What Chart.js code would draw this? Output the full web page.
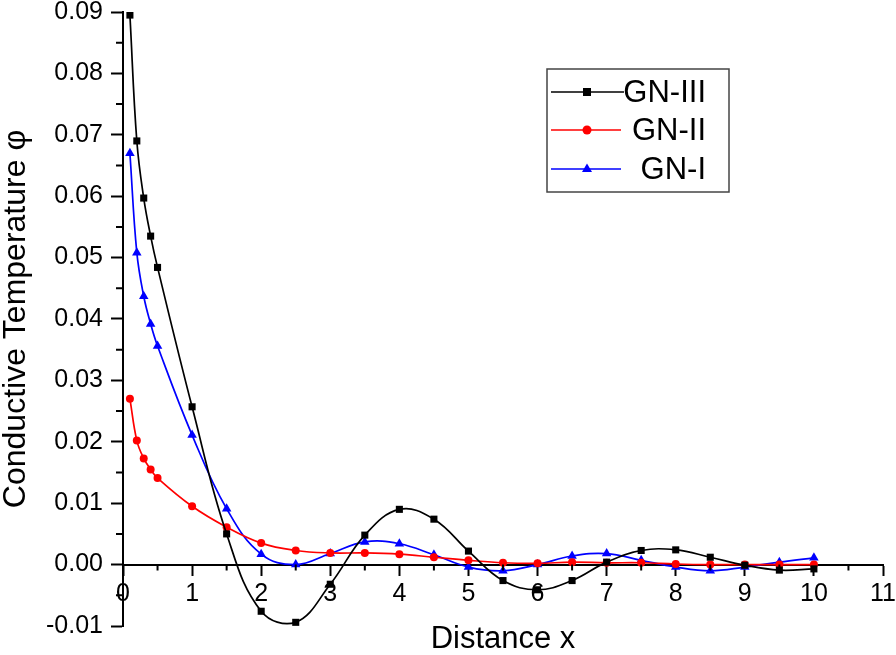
<!DOCTYPE html>
<html>
<head>
<meta charset="utf-8">
<script src="https://cdn.jsdelivr.net/npm/chart.js@4"></script>
<style>
    html, body { margin: 0; padding: 0; background: #fff; }
    #wrap { width: 896px; height: 655px; }
</style>
</head>
<body>
<div id="wrap"><canvas id="chart1"></canvas></div>
<script>
// 거리 x
const distance = [0.1, 0.2, 0.3, 0.4, 0.5, 1, 1.5, 2, 2.5, 3, 3.5, 4, 4.5, 5, 5.5, 6, 6.5, 7, 7.5, 8, 8.5, 9, 9.5, 10];

const gn3 = [0.0895, 0.0690, 0.0597, 0.0535, 0.0484, 0.0257, 0.0050, -0.0076, -0.0094, -0.0032, 0.0048, 0.0090,
    0.0074, 0.0022, -0.0026, -0.0041, -0.0026, 0.0004, 0.0023, 0.0024, 0.0012, -0.0001, -0.0009, -0.0007];
const gn2 = [0.0270, 0.0202, 0.0173, 0.0155, 0.0141, 0.0095, 0.0061, 0.0035, 0.0023, 0.0019, 0.0019, 0.0017,
    0.0012, 0.0007, 0.0003, 0.0002, 0.0004, 0.0003, 0.0003, 0.0001, 0.0000, 0.0000, 0.0000, 0.0000];
const gn1 = [0.0670, 0.0508, 0.0437, 0.0392, 0.0356, 0.0211, 0.0091, 0.0017, 0.0000, 0.0018, 0.0037, 0.0034,
    0.0016, -0.0004, -0.0010, 0.0000, 0.0014, 0.0018, 0.0007, -0.0004, -0.0010, -0.0004, 0.0004, 0.0011];

const seriesNames = ["GN-III", "GN-II", "GN-I"];
const xTicks = [0, 1, 2, 3, 4, 5, 6, 7, 8, 9, 10, 11];
const yTicks = [-0.01, 0, 0.01, 0.02, 0.03, 0.04, 0.05, 0.06, 0.07, 0.08, 0.09];

const FONT = "'Liberation Sans', Arial, sans-serif";

function toPoints(ys) {
    return distance.map((x, i) => ({ x: x, y: ys[i] }));
}

// 보조 눈금 (0.5, 0.005 간격)
const minorTicks = {
    id: "minorTicks",
    afterDraw(chart) {
        const ctx = chart.ctx;
        const xs = chart.scales.x;
        const ys = chart.scales.y;
        const y0 = ys.getPixelForValue(0);
        const left = chart.chartArea.left;
        ctx.save();
        ctx.strokeStyle = "#000";
        ctx.lineWidth = 2;
        ctx.beginPath();
        for (let i = 0; i < xTicks.length - 1; i++) {
            const px = xs.getPixelForValue(xTicks[i] + 0.5);
            ctx.moveTo(px, y0);
            ctx.lineTo(px, y0 + 6);
        }
        for (let i = 0; i < yTicks.length - 1; i++) {
            const py = ys.getPixelForValue(yTicks[i] + 0.005);
            ctx.moveTo(left, py);
            ctx.lineTo(left - 7, py);
        }
        ctx.stroke();
        ctx.restore();
    },
};

// 범례 상자
const legendBox = {
    id: "legendBox",
    afterDraw(chart) {
        const ctx = chart.ctx;
        ctx.save();
        ctx.strokeStyle = "#444";
        ctx.lineWidth = 1.5;
        ctx.strokeRect(547, 69, 182, 123);
        const rows = [92, 130, 169];
        chart.data.datasets.forEach((ds, i) => {
            const y = rows[i];
            ctx.strokeStyle = ds.borderColor;
            ctx.lineWidth = 1.5;
            ctx.beginPath();
            ctx.moveTo(551, y);
            ctx.lineTo(i === 0 ? 624 : 621, y);
            ctx.stroke();
            ctx.fillStyle = ds.borderColor;
            const cx = 587;
            ctx.beginPath();
            if (ds.pointStyle === "rect") {
                ctx.rect(cx - 4, y - 4, 8, 8);
            } else if (ds.pointStyle === "circle") {
                ctx.arc(cx, y, 4.5, 0, Math.PI * 2);
            } else {
                ctx.moveTo(cx, y - 5.5);
                ctx.lineTo(cx + 5, y + 3);
                ctx.lineTo(cx - 5, y + 3);
                ctx.closePath();
            }
            ctx.fill();
            ctx.fillStyle = "#000";
            ctx.font = "31px " + FONT;
            ctx.textAlign = "right";
            ctx.textBaseline = "middle";
            ctx.fillText(ds.label, 706, y + 1);
        });
        ctx.restore();
    },
};

const ctx1 = document.getElementById("chart1").getContext("2d");
const chart1 = new Chart(ctx1, {
    type: "line",
    data: {
        datasets: [
            {
                label: seriesNames[0],
                data: toPoints(gn3),
                borderColor: "#000000",
                backgroundColor: "#000000",
                pointStyle: "rect",
                pointRadius: 5,
            },
            {
                label: seriesNames[1],
                data: toPoints(gn2),
                borderColor: "#ff0000",
                backgroundColor: "#ff0000",
                pointStyle: "circle",
                pointRadius: 4,
            },
            {
                label: seriesNames[2],
                data: toPoints(gn1),
                borderColor: "#0000ff",
                backgroundColor: "#0000ff",
                pointStyle: "triangle",
                pointRadius: 5.5,
            },
        ],
    },
    options: {
        responsive: true,
        maintainAspectRatio: false,
        animation: false,
        events: [],
        elements: {
            line: { borderWidth: 1.7, tension: 0.4 },
            point: { borderWidth: 0 },
        },
        layout: {
            padding: { top: 12, right: 13, left: 0, bottom: 0 },
        },
        plugins: {
            legend: { display: false },
            tooltip: { enabled: false },
            title: {
                display: true,
                position: "bottom",
                fullSize: false,
                text: "Distance x",
                color: "#000",
                font: { family: FONT, size: 31, weight: "normal", lineHeight: 1 },
                padding: { top: -2, bottom: 0 },
            },
        },
        scales: {
            x: {
                type: "linear",
                position: { y: 0 },
                min: 0,
                max: 11,
                afterBuildTicks: (scale) => {
                    scale.ticks = xTicks.map((v) => ({ value: v }));
                },
                afterFit: (scale) => {
                    scale.paddingLeft = 0;
                    scale.paddingRight = 0;
                },
                ticks: {
                    color: "#000",
                    font: { family: FONT, size: 25 },
                    padding: 5,
                    maxRotation: 0,
                    callback: (v) => String(v),
                },
                grid: {
                    drawOnChartArea: false,
                    drawTicks: true,
                    tickLength: 10,
                    tickWidth: 2,
                    tickColor: "#000",
                },
                border: { display: true, color: "#000", width: 2 },
            },
            y: {
                type: "linear",
                min: -0.01,
                max: 0.09,
                afterBuildTicks: (scale) => {
                    scale.ticks = yTicks.map((v) => ({ value: v }));
                },
                afterFit: (scale) => {
                    scale.width = 123;
                    scale.paddingTop = 0;
                    scale.paddingBottom = 0;
                },
                ticks: {
                    color: "#000",
                    font: { family: FONT, size: 25 },
                    padding: 8,
                    callback: (v) => Number(v).toFixed(2),
                },
                grid: {
                    drawOnChartArea: false,
                    drawTicks: true,
                    tickLength: 12,
                    tickWidth: 2,
                    tickColor: "#000",
                },
                border: { display: true, color: "#000", width: 2 },
                title: {
                    display: true,
                    text: "Conductive Temperature φ",
                    color: "#000",
                    font: { family: FONT, size: 32, lineHeight: 1 },
                    padding: { top: 0, bottom: 0 },
                },
            },
        },
    },
    plugins: [minorTicks, legendBox],
});
</script>
</body>
</html>
